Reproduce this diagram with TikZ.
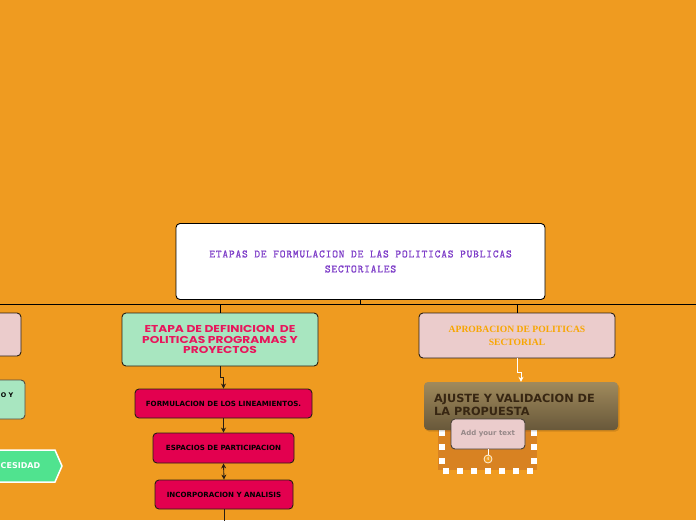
\documentclass[tikz,border=0pt]{standalone}
\usepackage{fontspec}
\setmainfont{DejaVu Sans}
\newfontfamily\monofnt{Latin Modern Mono}[LetterSpace=7,FakeBold=0.8]
\newfontfamily\popfnt{Poppins}[FakeStretch=1.22]
\newfontfamily\serfnt{Liberation Serif}
\newfontfamily\djfnt{DejaVu Sans}
\usetikzlibrary{arrows.meta,calc}
\definecolor{bg}{RGB}{239,155,32}
\definecolor{pinkfill}{RGB}{235,204,204}
\definecolor{greenfill}{RGB}{168,230,192}
\definecolor{redfill}{RGB}{227,0,79}
\definecolor{crim}{RGB}{232,22,92}
\definecolor{purp}{RGB}{125,60,200}
\definecolor{orgtext}{RGB}{248,166,0}
\definecolor{browntop}{RGB}{160,138,92}
\definecolor{brownbot}{RGB}{104,88,58}
\definecolor{browntext}{RGB}{55,38,18}
\definecolor{hexgreen}{RGB}{80,227,143}
\definecolor{darkorg}{RGB}{216,130,34}
\definecolor{edge}{RGB}{40,30,20}
\definecolor{addgray}{RGB}{150,136,136}
\tikzset{
  box/.style={draw=edge, line width=0.9pt, rounded corners=4pt, inner sep=0pt, align=center},
  redbox/.style={box, fill=redfill, font=\djfnt\bfseries\fontsize{7.1}{9}\selectfont, text=black},
  arr/.style={draw=edge, line width=0.9pt, -{Stealth[length=5pt,width=5pt]}},
  darr/.style={draw=edge, line width=0.9pt, {Stealth[length=5pt,width=5pt]}-{Stealth[length=5pt,width=5pt]}},
  bus/.style={draw=black, line width=0.9pt}
}
\begin{document}
\begin{tikzpicture}[x=1pt,y=-1pt]
\useasboundingbox (0,0) rectangle (696,520);
\fill[bg] (0,0) rectangle (696,520);
\clip (0,0) rectangle (696,520);

% top node
\node[box, draw=black, fill=white, minimum width=369pt, minimum height=76pt,
      font=\monofnt\fontsize{11.2}{15}\selectfont, text=purp] (top) at (360.5,261.5)
  {ETAPAS DE FORMULACION DE LAS POLITICAS PUBLICAS\\SECTORIALES};

% bus
\coordinate (busL) at (0,304);
\coordinate (busR) at (696,304);

% left partial nodes
\node[box, fill=pinkfill, minimum width=51pt, minimum height=43pt] (lp) at (-4.5,334.5) {};
\node[box, draw=edge!80, fill=greenfill, minimum width=55pt, minimum height=39pt] (lg) at (-2.5,399.5) {};
\node[font=\djfnt\bfseries\fontsize{6.4}{8}\selectfont, text=black, anchor=west, inner sep=0pt] (lgt) at (0.8,395) {O Y};
\fill[hexgreen, draw=white, line width=1.5pt] (-10,450) -- (55,450) -- (62,466) -- (55,482) -- (-10,482) -- cycle;
\node[font=\djfnt\bfseries\fontsize{8}{10}\selectfont, text=white, anchor=west, inner sep=0pt] (hx) at (0.5,466) {CESIDAD};

% middle column
\node[box, fill=greenfill, minimum width=196pt, minimum height=53pt,
      font=\popfnt\bfseries\fontsize{10}{10.5}\selectfont, text=crim] (def) at (220,339.5)
  {ETAPA DE DEFINICION\ \ DE\\POLITICAS PROGRAMAS Y\\PROYECTOS};
\node[redbox, minimum width=177pt, minimum height=29pt] (f1) at (223.5,403.5) {FORMULACION DE LOS LINEAMIENTOS.};
\node[redbox, minimum width=141pt, minimum height=30pt] (f2) at (223.5,448) {ESPACIOS DE PARTICIPACION};
\node[redbox, minimum width=138pt, minimum height=29pt] (f3) at (224,494.5) {INCORPORACION Y ANALISIS};
\coordinate (f3end) at (224,525);

% right column
\node[box, fill=pinkfill, minimum width=196pt, minimum height=45pt,
      font=\serfnt\bfseries\fontsize{9.6}{13}\selectfont, text=orgtext] (apr) at (517,335.5)
  {APROBACION DE POLITICAS\\SECTORIAL};

% dashed sub-area
\fill[darkorg] (438,428) rectangle (537,470);
\foreach \yy in {433,447,461} {
  \fill[white] (438.5,\yy-3) rectangle ++(6,6);
  \fill[white] (531,\yy-3) rectangle ++(6,6);
}
\foreach \xx in {446,460,474,488,502,516,530} {
  \fill[white] (\xx-3,468) rectangle ++(6,6);
}

\fill[black, opacity=0.12, rounded corners=4pt] (425,384) rectangle (619.5,431.5);
\node[rounded corners=4pt, inner sep=0pt, minimum width=194pt, minimum height=48pt,
      top color=browntop, bottom color=brownbot] (aj) at (521,406) {};
\node[anchor=north west, inner sep=0pt, align=left, text=browntext,
      font=\djfnt\bfseries\fontsize{11.3}{13}\selectfont] (ajt) at (434,393.5)
  {AJUSTE Y VALIDACION DE\\LA PROPUESTA};

\node[box, draw=edge!85, fill=pinkfill, minimum width=74pt, minimum height=30pt,
      font=\djfnt\bfseries\fontsize{7}{8}\selectfont, text=addgray] (add) at (488,434) {Add your text};
\node[circle, draw=white!85!bg, line width=0.8pt, fill=bg, minimum size=8pt, inner sep=0pt,
      font=\djfnt\fontsize{4.5}{5}\selectfont, text=white] (num) at (488,459) {4};
\draw[white, line width=0.9pt] (add.south) -- (num.north);

% connectors
\draw[bus] (top.south) -- (top.south |- busL);
\draw[bus] (busL) -- (busR);
\draw[bus] (busL -| def.north) -- (def.north);
\draw[bus] (busL -| apr.north) -- (apr.north);
\draw[arr] (def.south) -- ++(0,11) -| (f1.north);
\draw[arr] (f1.south) -- (f2.north);
\draw[darr] (f2.south) -- (f3.north);
\draw[draw=edge, line width=0.9pt] (f3.south) -- (f3end);
\draw[white, line width=0.9pt, -{Stealth[length=5pt,width=5pt]}] (apr.south) -- ++(0,14) -| (aj.north);
\end{tikzpicture}
\end{document}
